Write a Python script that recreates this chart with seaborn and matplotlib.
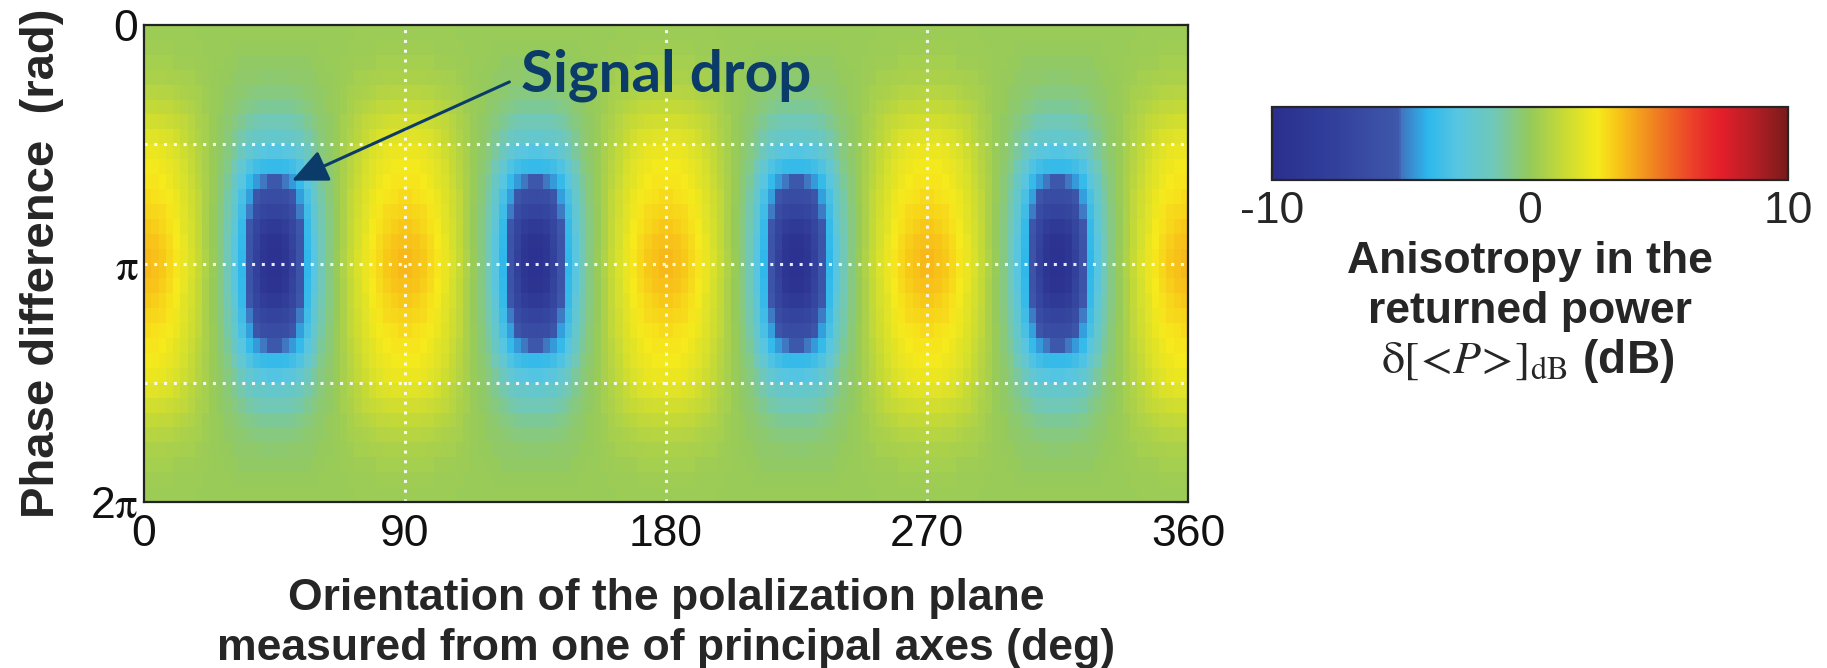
import numpy as np
import pandas as pd
import matplotlib
matplotlib.use("Agg")
import matplotlib.pyplot as plt
import seaborn as sns
from matplotlib.colors import LinearSegmentedColormap

# ---------------- data ----------------
# x axis: orientation of the polarization plane (deg), cells of 2.5 deg
orientation_ticks = [0, 90, 180, 270, 360]
# y axis: phase difference (rad), cells of pi/16, ticks every pi/4
phase_tick_labels = ["0", r"$\mathrm{\pi}$", r"2$\mathrm{\pi}$"]
# anisotropy (dB) for one quarter of the repeating pattern:
# rows = phase from 0 (top) down to pi, columns = orientation 1.25 .. 43.75 deg
aniso_row_00 = [0.2, 0.2, 0.2, 0.2, 0.2, 0.2, 0.2, 0.1, 0.1, 0.1, 0.1, 0.1, 0.1, 0.1, 0.1, 0.1, 0.1, 0.1]
aniso_row_01 = [0.3, 0.3, 0.3, 0.3, 0.2, 0.2, 0.2, 0.2, 0.1, 0.1, 0.1, 0.1, 0.0, 0.0, 0.0, 0.0, 0.0, 0.0]
aniso_row_02 = [0.4, 0.4, 0.4, 0.4, 0.3, 0.3, 0.3, 0.2, 0.2, 0.1, 0.1, 0.0, 0.0, -0.1, -0.1, -0.1, -0.1, -0.1]
aniso_row_03 = [0.6, 0.6, 0.6, 0.5, 0.5, 0.4, 0.4, 0.3, 0.2, 0.1, 0.0, 0.0, -0.1, -0.2, -0.2, -0.2, -0.3, -0.3]
aniso_row_04 = [0.9, 0.9, 0.8, 0.8, 0.7, 0.6, 0.5, 0.4, 0.3, 0.1, 0.0, -0.1, -0.2, -0.3, -0.4, -0.5, -0.5, -0.5]
aniso_row_05 = [1.2, 1.2, 1.1, 1.1, 1.0, 0.8, 0.7, 0.5, 0.3, 0.1, 0.0, -0.2, -0.3, -0.5, -0.7, -0.8, -0.9, -0.9]
aniso_row_06 = [1.6, 1.6, 1.5, 1.4, 1.3, 1.1, 0.9, 0.6, 0.4, 0.1, -0.1, -0.3, -0.5, -0.8, -1.1, -1.3, -1.4, -1.4]
aniso_row_07 = [2.0, 2.0, 1.9, 1.8, 1.6, 1.3, 1.0, 0.7, 0.4, 0.1, -0.1, -0.4, -0.8, -1.2, -1.6, -1.9, -2.0, -2.1]
aniso_row_08 = [2.3, 2.3, 2.2, 2.0, 1.8, 1.5, 1.2, 0.8, 0.5, 0.1, -0.2, -0.5, -1.0, -1.6, -2.2, -2.6, -2.8, -2.9]
aniso_row_09 = [2.5, 2.5, 2.4, 2.2, 2.0, 1.7, 1.3, 0.9, 0.5, 0.1, -0.3, -0.7, -1.4, -2.2, -3.0, -3.4, -3.6, -3.7]
aniso_row_10 = [2.7, 2.7, 2.6, 2.4, 2.1, 1.8, 1.4, 1.0, 0.6, 0.1, -0.4, -0.9, -1.8, -2.8, -3.7, -4.4, -5.0, -5.2]
aniso_row_11 = [2.9, 2.8, 2.7, 2.5, 2.3, 1.9, 1.5, 1.1, 0.6, 0.1, -0.4, -1.1, -2.1, -3.2, -4.3, -5.4, -6.2, -6.4]
aniso_row_12 = [3.1, 3.0, 2.9, 2.7, 2.4, 2.0, 1.6, 1.1, 0.6, 0.0, -0.5, -1.2, -2.3, -3.5, -4.9, -6.3, -7.0, -7.2]
aniso_row_13 = [3.3, 3.2, 3.0, 2.8, 2.5, 2.1, 1.7, 1.2, 0.6, 0.0, -0.6, -1.3, -2.5, -3.7, -5.3, -6.9, -8.0, -8.5]
aniso_row_14 = [3.5, 3.4, 3.2, 2.9, 2.6, 2.2, 1.7, 1.2, 0.6, 0.0, -0.6, -1.4, -2.7, -3.8, -5.5, -7.3, -8.9, -9.4]
aniso_row_15 = [3.6, 3.5, 3.3, 3.0, 2.7, 2.2, 1.8, 1.3, 0.7, 0.1, -0.6, -1.4, -2.8, -3.9, -5.6, -7.5, -9.0, -9.5]

colorbar_ticks = [-10, -5, 0, 5, 10]
colorbar_labels = ["-10", "", "0", "", "10"]

# ---------------- assemble the grid (pattern repeats every 90 deg, mirror about pi) ----------------
quarter = np.array([aniso_row_00, aniso_row_01, aniso_row_02, aniso_row_03,
                    aniso_row_04, aniso_row_05, aniso_row_06, aniso_row_07,
                    aniso_row_08, aniso_row_09, aniso_row_10, aniso_row_11,
                    aniso_row_12, aniso_row_13, aniso_row_14, aniso_row_15])
period = np.hstack([quarter, quarter[:, ::-1]])
upper = np.hstack([period] * 4)
grid = np.vstack([upper, upper[::-1]])
n_rows, n_cols = grid.shape
df = pd.DataFrame(grid)

# ---------------- style ----------------
sns.set_style("white")
plt.rcParams["font.family"] = ["Liberation Sans", "DejaVu Sans"]
plt.rcParams["mathtext.fontset"] = "stix"

cmap = LinearSegmentedColormap.from_list("aniso", [
    (0.00, "#2a2f8e"), (0.12, "#32409c"), (0.245, "#3e58ab"), (0.25, "#3f76c0"),
    (0.30, "#2cb6ec"), (0.36, "#58c6e0"), (0.43, "#70c8b8"), (0.50, "#94c95c"),
    (0.57, "#cadb33"), (0.63, "#f6ea1c"), (0.67, "#f8c519"), (0.75, "#f07a22"),
    (0.82, "#eb3c2a"), (0.87, "#e41e2a"), (0.94, "#b01e24"), (1.00, "#7a1a1a")])

W, H = 1827, 668
fig = plt.figure(figsize=(W / 100, H / 100), dpi=100)
ax = fig.add_axes([144 / W, (H - 502) / H, 1044 / W, 477 / H])
cax = fig.add_axes([1272 / W, (H - 180) / H, 516 / W, 73 / H])

sns.heatmap(df, ax=ax, cmap=cmap, vmin=-10, vmax=10, cbar_ax=cax,
            cbar_kws=dict(orientation="horizontal"),
            xticklabels=False, yticklabels=False)

# axes frame
for s in ax.spines.values():
    s.set_visible(True)
    s.set_linewidth(1.6)
    s.set_color("#222222")

deg_per_cell = 360 / n_cols
phase_per_cell = 2 * np.pi / n_rows
ax.set_xticks([t / deg_per_cell for t in orientation_ticks])
ax.set_xticklabels([str(t) for t in orientation_ticks])
ax.set_yticks([0, n_rows / 2, n_rows])
ax.set_yticklabels(phase_tick_labels)
ax.set_yticks(np.arange(0, n_rows + 1, n_rows / 8), minor=True)
ax.tick_params(axis="both", which="both", direction="in", length=9, width=1.5,
               top=True, right=True, labelsize=32, colors="#111111")
ax.tick_params(axis="x", pad=9)
ax.tick_params(axis="y", pad=4)
for lab in ax.get_xticklabels() + ax.get_yticklabels():
    lab.set_rotation(0)

# white dotted grid
for t in orientation_ticks[1:-1]:
    ax.axvline(t / deg_per_cell, color="white", lw=2.2, ls=(0, (1, 2.2)), alpha=0.9)
for r in [n_rows / 4, n_rows / 2, 3 * n_rows / 4]:
    ax.axhline(r, color="white", lw=2.2, ls=(0, (1, 2.2)), alpha=0.9)

ax.set_xlabel("Orientation of the polalization plane\nmeasured from one of principal axes (deg)",
              fontsize=32, fontweight="bold", labelpad=16, linespacing=1.3)
ax.set_ylabel("Phase difference  (rad)", fontsize=34, fontweight="bold", labelpad=19)

# annotation
ax.annotate("", xy=(51 / deg_per_cell, 2.05 / phase_per_cell),
            xytext=(126 / deg_per_cell, 0.75 / phase_per_cell),
            arrowprops=dict(arrowstyle="-|>,head_length=2.2,head_width=1.0",
                            color="#0b3b68", lw=2.2, shrinkA=0, shrinkB=0))
ax.text(180 / deg_per_cell, 0.66 / phase_per_cell, "Signal drop", color="#0b3b68",
        fontsize=42, fontweight="bold", family=["Lato", "DejaVu Sans"],
        ha="center", va="center")

# colorbar
cbar = ax.collections[0].colorbar
cbar.set_ticks(colorbar_ticks)
cbar.set_ticklabels(colorbar_labels)
cbar.outline.set_linewidth(1.6)
cbar.ax.tick_params(direction="in", length=8, width=1.5, top=True, bottom=True,
                    labelsize=32, pad=8)

fig.text(1530 / W, (H - 262) / H, "Anisotropy in the", fontsize=32, fontweight="bold",
         ha="center", va="center")
fig.text(1530 / W, (H - 312) / H, "returned power", fontsize=32, fontweight="bold",
         ha="center", va="center")
fig.text(1528 / W, (H - 361) / H,
         r"$\mathrm{\delta}[\!<\!P\!>\!]_{\mathrm{dB}}$ (dB)", fontsize=33,
         fontweight="bold", ha="center", va="center")

fig.savefig("out.png", dpi=100)
